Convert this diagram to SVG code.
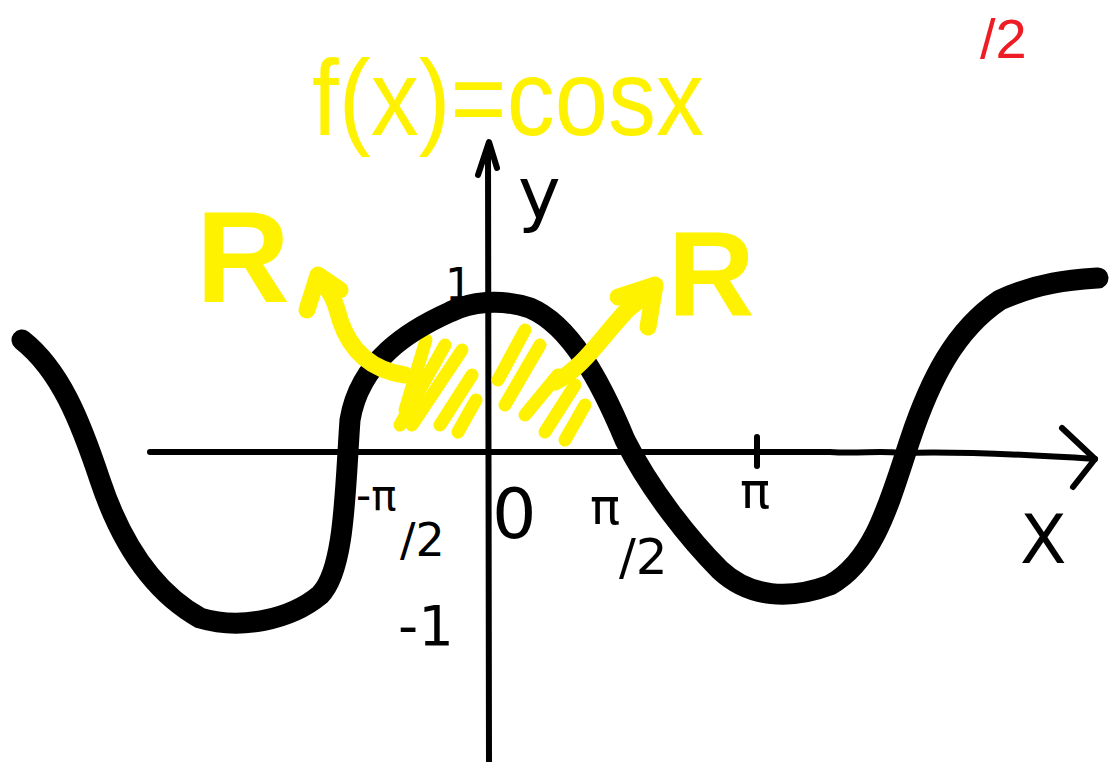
<svg xmlns="http://www.w3.org/2000/svg" width="1109" height="762" viewBox="0 0 1109 762">
<style>
.ax{fill:none;stroke:#000;stroke-width:6;stroke-linecap:round;stroke-linejoin:round}
.curve{fill:none;stroke:#000;stroke-width:21;stroke-linecap:round;stroke-linejoin:round}
.ylw{fill:none;stroke:#fff200;stroke-width:13;stroke-linecap:round;stroke-linejoin:round}
.yarr{fill:none;stroke:#fff200;stroke-width:17;stroke-linecap:round;stroke-linejoin:round}
.lbl{font-family:"DejaVu Sans","Liberation Sans",sans-serif;fill:#000}
.ytxt{font-family:"Liberation Sans",sans-serif;fill:#fff200}
</style>
<rect width="1109" height="762" fill="#fff"/>
<g id="axes">
<path class="ax" d="M150,452 L830,452 C860,454 880,450 900,453 C960,451 1020,454 1095,459"/>
<path class="ax" d="M1062,428 L1095,459 L1073,487"/>
<path class="ax" d="M488,148 L489,762"/>
<path class="ax" d="M478,175 L489,142 L497,168"/>
<path class="ax" d="M757,437 L757,466"/>
</g>
<g id="hatch">
<path class="ylw" d="M426,340 L405,410"/>
<path class="ylw" d="M445,345 L400,425"/>
<path class="ylw" d="M462,350 L412,425"/>
<path class="ylw" d="M472,375 L440,425"/>
<path class="ylw" d="M476,400 L458,432"/>
<path class="ylw" d="M525,330 L498,380"/>
<path class="ylw" d="M540,345 L505,405"/>
<path class="ylw" d="M558,375 L525,415"/>
<path class="ylw" d="M575,385 L545,432"/>
<path class="ylw" d="M585,405 L565,440"/>
</g>
<g id="curve">
<path class="curve" d="M22,340 C60,370 80,420 100,480 C120,540 150,590 200,618 C240,630 290,620 320,595 C345,570 345,490 350,420 C360,360 410,330 450,312 C470,302 500,298 530,308 C570,325 600,380 625,440 C650,490 690,540 720,570 C750,598 790,600 830,585 C875,560 890,500 910,440 C930,380 955,330 1000,300 C1040,282 1070,280 1098,278"/>
</g>
<g id="arrows">
<path class="yarr" d="M405,375 C370,370 350,350 340,320 C335,300 330,290 320,280"/>
<path class="yarr" d="M307,310 L318,275 L340,290"/>
<path class="yarr" d="M555,382 C580,370 600,340 620,318 C630,305 640,300 650,295"/>
<path class="yarr" d="M618,297 L655,285 L648,327"/>
</g>
<g id="labels">
<text class="ytxt" x="312" y="135" font-size="108" textLength="392" lengthAdjust="spacingAndGlyphs">f(x)=cosx</text>
<text class="ytxt" x="196" y="302" font-size="130" font-weight="bold">R</text>
<text class="ytxt" x="668" y="316" font-size="120" font-weight="bold">R</text>
<text class="lbl" x="518" y="218" font-size="72">y</text>
<text class="lbl" x="445" y="300" font-size="44">1</text>
<text class="lbl" x="356" y="510" font-size="42">-π</text>
<text class="lbl" x="400" y="556" font-size="46">/2</text>
<text class="lbl" x="492" y="538" font-size="70">0</text>
<text class="lbl" x="590" y="524" font-size="50">π</text>
<text class="lbl" x="619" y="574" font-size="50">/2</text>
<text class="lbl" x="740" y="508" font-size="50">π</text>
<text class="lbl" x="1020" y="563" font-size="68">X</text>
<text class="lbl" x="398" y="645" font-size="56">-1</text>
<text x="980" y="58" font-size="56" font-family="Liberation Sans,sans-serif" fill="#ee1c24">/2</text>
</g>
</svg>
